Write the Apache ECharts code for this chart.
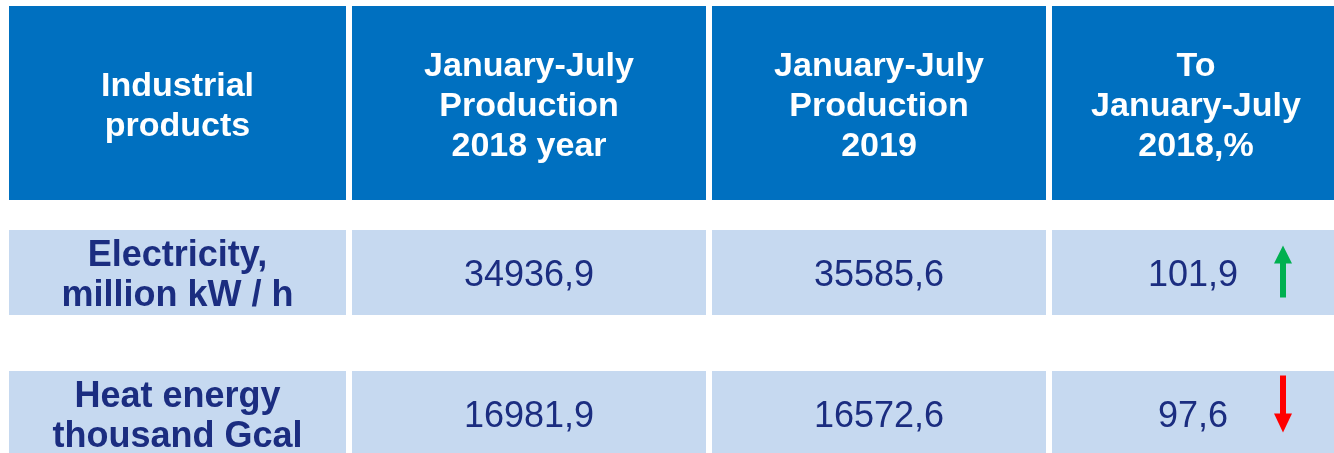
<!DOCTYPE html>
<html>
<head>
<meta charset="utf-8">
<script src="https://cdn.jsdelivr.net/npm/echarts@6/dist/echarts.min.js"></script>
<style>
  html, body { margin: 0; padding: 0; background: #fff; }
  #chart { width: 1334px; height: 453px; }
</style>
</head>
<body>
<div id="chart"></div>
<script>
// table data
const headers = [
  "Industrial\nproducts",
  "January-July\nProduction\n2018 year",
  "January-July\nProduction\n2019",
  "To\nJanuary-July\n2018,%",
];
const products = ["Electricity,\nmillion kW / h", "Heat energy\nthousand Gcal"];
const prod2018 = [34936.9, 16981.9];
const prod2019 = [35585.6, 16572.6];
const ratioPct = [101.9, 97.6];

// layout, in pixels on the hidden value axes
const colEdges = [[9, 346], [352, 706], [712, 1046], [1052, 1340]];
const rowEdges = [[6, 200], [230, 315], [371, 456]];

const headColor = "#0070c0";
const rowColor = "#c6d9f0";
const textColor = "#1b2d80";
const fontFamily = '"Liberation Sans", Arial, sans-serif';

const fmt = (v) => v.toFixed(1).replace(".", ",");

const cells = [];
headers.forEach((h, c) => cells.push({ value: [c, 0], text: h, kind: "head" }));
products.forEach((p, r) => {
  cells.push({ value: [0, r + 1], text: p, kind: "label" });
  cells.push({ value: [1, r + 1], text: fmt(prod2018[r]), kind: "num" });
  cells.push({ value: [2, r + 1], text: fmt(prod2019[r]), kind: "num" });
  cells.push({ value: [3, r + 1], text: fmt(ratioPct[r]), kind: "pct", up: ratioPct[r] >= 100 });
});

function renderItem(params, api) {
  const item = cells[params.dataIndex];
  const c = api.value(0);
  const r = api.value(1);
  const p0 = api.coord([colEdges[c][0], rowEdges[r][0]]);
  const p1 = api.coord([colEdges[c][1], rowEdges[r][1]]);
  const cx = (p0[0] + p1[0]) / 2;
  const cy = (p0[1] + p1[1]) / 2;
  const children = [
    {
      type: "rect",
      shape: { x: p0[0], y: p0[1], width: p1[0] - p0[0], height: p1[1] - p0[1] },
      style: { fill: item.kind === "head" ? headColor : rowColor },
    },
  ];

  let font = { fontSize: 36, fontWeight: "normal", fill: textColor };
  if (item.kind === "head") font = { fontSize: 34, fontWeight: "bold", fill: "#ffffff" };
  if (item.kind === "label") font = { fontSize: 36, fontWeight: "bold", fill: textColor };

  children.push({
    type: "text",
    style: {
      x: item.kind === "pct" ? cx - 3 : cx,
      y: cy + 4,
      text: item.text,
      align: "center",
      verticalAlign: "middle",
      fontFamily: fontFamily,
      fontSize: font.fontSize,
      fontWeight: font.fontWeight,
      lineHeight: 40,
      fill: font.fill,
    },
  });

  // trend arrow in the % column
  if (item.kind === "pct") {
    const ax = p0[0] + 231;
    if (item.up) {
      children.push({
        type: "polygon",
        shape: { points: [[ax - 9, cy - 9], [ax + 9, cy - 9], [ax, cy - 27]] },
        style: { fill: "#00b050" },
      });
      children.push({
        type: "rect",
        shape: { x: ax - 3, y: cy - 10, width: 6, height: 35 },
        style: { fill: "#00b050" },
      });
    } else {
      children.push({
        type: "rect",
        shape: { x: ax - 3, y: cy - 38, width: 6, height: 39 },
        style: { fill: "#ff0000" },
      });
      children.push({
        type: "polygon",
        shape: { points: [[ax - 9, cy], [ax + 9, cy], [ax, cy + 19]] },
        style: { fill: "#ff0000" },
      });
    }
  }

  return { type: "group", children: children };
}

const chart = echarts.init(document.getElementById("chart"));
chart.setOption({
  animation: false,
  grid: { left: 0, right: 0, top: 0, bottom: 0 },
  xAxis: { type: "value", min: 0, max: 1334, show: false },
  yAxis: { type: "value", min: 0, max: 453, inverse: true, show: false },
  series: [
    {
      type: "custom",
      renderItem: renderItem,
      clip: false,
      data: cells.map((d) => d.value),
    },
  ],
});
</script>
</body>
</html>
